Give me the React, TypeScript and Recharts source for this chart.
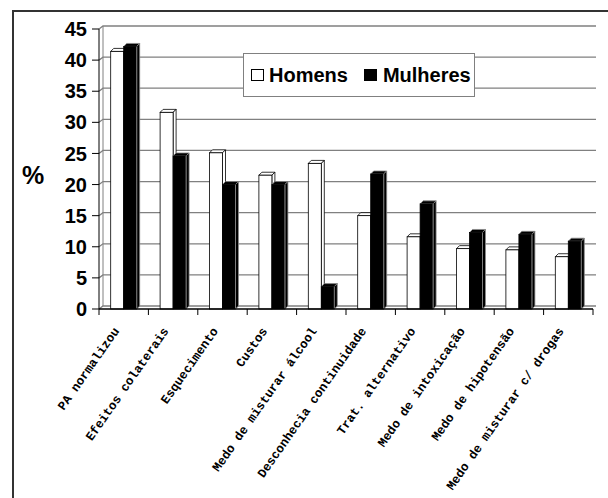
import React from 'react';
import { BarChart, Bar, XAxis, YAxis, CartesianGrid, Legend, Label } from 'recharts';

// --- DATA ---
const categories = [
  'PA normalizou',
  'Efeitos colaterais',
  'Esquecimento',
  'Custos',
  'Medo de misturar álcool',
  'Desconhecia continuidade',
  'Trat. alternativo',
  'Medo de intoxicação',
  'Medo de hipotensão',
  'Medo de misturar c/ drogas',
];
const homens = [41.4, 31.6, 25.1, 21.5, 23.4, 15.0, 11.6, 9.7, 9.5, 8.4];
const mulheres = [42.2, 24.6, 20.0, 20.0, 3.6, 21.7, 16.9, 12.3, 12.0, 10.9];
const yTicks = [0, 5, 10, 15, 20, 25, 30, 35, 40, 45];

const data = categories.map((name, i) => ({
  name,
  Homens: homens[i],
  Mulheres: mulheres[i],
}));

const W = 608;
const H = 498;
const PLOT_LEFT = 99;
const PLOT_RIGHT = 593;
const BAND = (PLOT_RIGHT - PLOT_LEFT) / categories.length;
const DEPTH = 3;

// 3D-looking column: front, top and right side
const Bar3D = (props: any) => {
  const { x, y, width, height, fill } = props;
  if (!height || height <= 0) return null;
  const d = DEPTH;
  const dark = fill === '#000000';
  const edge = dark ? '#8c8c8c' : '#000000';
  return (
    <g>
      <polygon
        points={`${x},${y} ${x + d},${y - d} ${x + width + d},${y - d} ${x + width},${y}`}
        fill={fill}
        stroke={edge}
        strokeWidth={0.8}
      />
      <polygon
        points={`${x + width},${y} ${x + width + d},${y - d} ${x + width + d},${y + height - d} ${x + width},${y + height}`}
        fill={fill}
        stroke={edge}
        strokeWidth={0.8}
      />
      <rect x={x} y={y} width={width} height={height} fill={fill} stroke="#000" strokeWidth={0.8} />
      {dark && <line x1={x + width} y1={y} x2={x + width} y2={y + height} stroke="#9a9a9a" strokeWidth={0.8} />}
    </g>
  );
};

const CategoryTick = (props: any) => {
  const { x, y, payload, index } = props;
  const tx = x - 4;
  const ty = y + 14;
  return (
    <g>
      <line x1={x - BAND / 2} y1={y - 8} x2={x - BAND / 2} y2={y - 2} stroke="#000" />
      {index === categories.length - 1 && (
        <line x1={x + BAND / 2} y1={y - 8} x2={x + BAND / 2} y2={y - 2} stroke="#000" />
      )}
      <text
        x={tx}
        y={ty}
        textAnchor="end"
        transform={`rotate(-55, ${tx}, ${ty})`}
        fontFamily="'Liberation Mono', monospace"
        fontWeight="bold"
        fontSize={12.5}
        fill="#000"
      >
        {payload.value}
      </text>
    </g>
  );
};

const gridLine = (p: any) => (
  <path
    key={p.key}
    d={`M${p.x1},${p.y1} L${p.x1 + DEPTH + 1},${p.y1 - DEPTH} L${p.x2 + DEPTH},${p.y2 - DEPTH}`}
    stroke="#808080"
    strokeWidth={1.3}
    fill="none"
  />
);

const wallLine = (p: any) =>
  p.index === 0 ? (
    <line
      key={p.key}
      x1={p.x + DEPTH + 1}
      y1={p.y - DEPTH}
      x2={p.x + DEPTH + 1}
      y2={p.y + p.height - DEPTH}
      stroke="#808080"
      strokeWidth={1}
    />
  ) : (
    <g key={p.key} />
  );

const LegendBox = () => (
  <div
    style={{
      width: 232,
      height: 44,
      border: '1px solid #808080',
      background: '#fff',
      display: 'flex',
      alignItems: 'center',
      fontFamily: "'Liberation Sans', Arial, sans-serif",
      fontWeight: 'bold',
      fontSize: 20,
      color: '#000',
      boxSizing: 'border-box',
    }}
  >
    <span style={{ display: 'inline-block', width: 13, height: 12, border: '1px solid #000', background: '#fff', marginLeft: 7, marginRight: 5, boxSizing: 'border-box' }} />
    <span>Homens</span>
    <span style={{ display: 'inline-block', width: 13, height: 12, background: '#000', marginLeft: 16, marginRight: 6 }} />
    <span>Mulheres</span>
  </div>
);

export default function App() {
  return (
    <div style={{ position: 'absolute', left: 0, top: 0, width: W, height: H, background: '#fff', overflow: 'hidden' }}>
      <div
        style={{
          position: 'absolute',
          left: 12,
          top: 10,
          width: W - 12,
          height: H - 10,
          borderTop: '2px solid #333',
          borderLeft: '2px solid #333',
          boxSizing: 'border-box',
        }}
      />
      <BarChart
        width={W}
        height={H}
        data={data}
        margin={{ top: 29, right: W - PLOT_RIGHT, bottom: 1, left: 0 }}
        barCategoryGap={11.7}
        barGap={0}
        style={{ position: 'absolute', left: 0, top: 0 }}
      >
        <CartesianGrid horizontal={gridLine} vertical={wallLine} />
        <XAxis
          dataKey="name"
          interval={0}
          height={144}
          tick={<CategoryTick />}
          tickLine={false}
          axisLine={{ stroke: '#000', strokeWidth: 1.5 }}
        />
        <YAxis
          domain={[0, 45]}
          ticks={yTicks}
          width={PLOT_LEFT}
          tickSize={7}
          tickMargin={5}
          interval={0}
          tickLine={{ stroke: '#000' }}
          axisLine={{ stroke: '#000' }}
          tick={{ fontFamily: "'Liberation Sans', Arial, sans-serif", fontWeight: 'bold', fontSize: 20, fill: '#000' }}
        >
          <Label
            content={() => (
              <text
                x={33}
                y={184}
                textAnchor="middle"
                fontFamily="'Liberation Sans', Arial, sans-serif"
                fontWeight="bold"
                fontSize={25}
                fill="#000"
              >
                %
              </text>
            )}
          />
        </YAxis>
        <Legend content={<LegendBox />} wrapperStyle={{ position: 'absolute', left: 243, top: 53, width: 232, height: 44 }} />
        <Bar dataKey="Homens" fill="#ffffff" shape={<Bar3D />} isAnimationActive={false} />
        <Bar dataKey="Mulheres" fill="#000000" shape={<Bar3D />} isAnimationActive={false} />
      </BarChart>
    </div>
  );
}
